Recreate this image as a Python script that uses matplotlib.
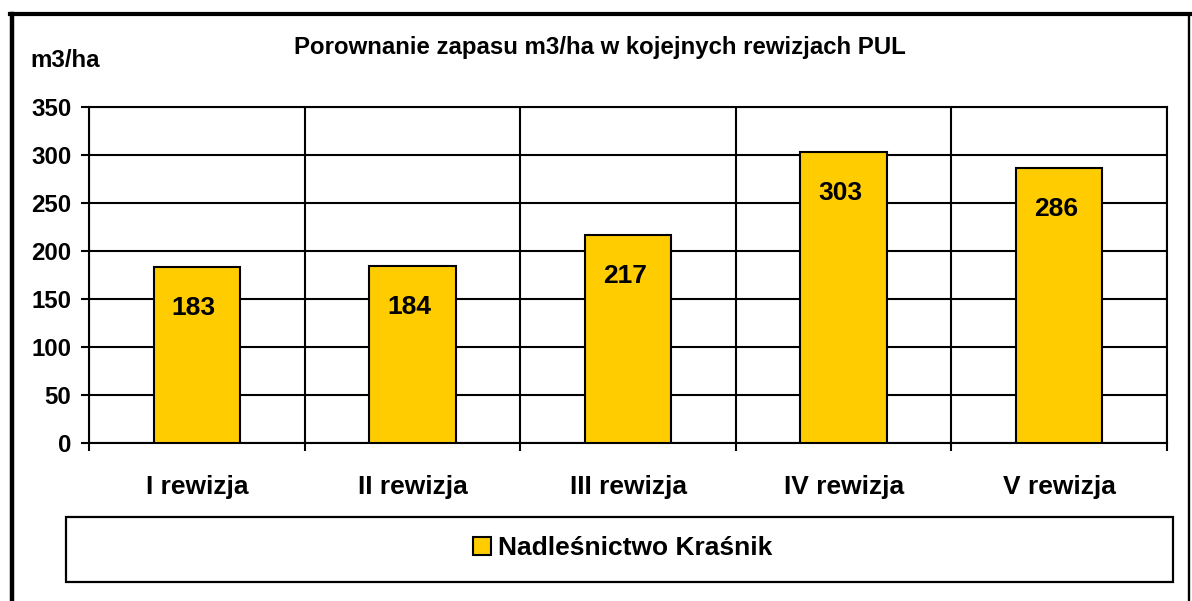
import matplotlib
matplotlib.use("Agg")
import matplotlib.pyplot as plt
from matplotlib.patches import Rectangle
from matplotlib.lines import Line2D

categories = ["I rewizja", "II rewizja", "III rewizja", "IV rewizja", "V rewizja"]
zapas = [183, 184, 217, 303, 286]
y_ticks = [0, 50, 100, 150, 200, 250, 300, 350]
series_name = "Nadleśnictwo Kraśnik"
title = "Porownanie zapasu m3/ha w kojejnych rewizjach PUL"
y_unit = "m3/ha"

W, H = 1192, 601
BAR = "#ffcc00"
plt.rcParams["font.family"] = ["Liberation Sans", "DejaVu Sans"]
plt.rcParams["font.weight"] = "bold"


def px(x, y):
    # pixel position (from top-left) -> figure fraction
    return x / W, 1 - y / H


fig = plt.figure(figsize=(W / 100, H / 100), dpi=100)
fig.patch.set_facecolor("white")

ax = fig.add_axes([89 / W, (H - 443) / H, 1078 / W, 336 / H])
xs = list(range(len(categories)))
ax.bar(xs, zapas, width=0.40, color=BAR, edgecolor="black", linewidth=1.5, zorder=3)

ax.set_xlim(-0.5, len(categories) - 0.5)
ax.set_ylim(0, 350)
ax.set_yticks(y_ticks)
ax.set_yticklabels([str(t) for t in y_ticks], fontsize=17.3, fontweight="bold")
ax.set_xticks(xs)
ax.set_xticklabels(categories, fontsize=19, fontweight="bold")
ax.set_xticks([i - 0.5 for i in range(len(categories) + 1)], minor=True)

ax.tick_params(axis="y", length=5.8, width=1.5, pad=7, direction="out")
ax.tick_params(axis="x", which="major", length=0, pad=23)
ax.tick_params(axis="x", which="minor", length=5.8, width=1.5, direction="out")

ax.grid(True, axis="y", which="major", color="black", linewidth=1.5, zorder=0)
ax.grid(True, axis="x", which="minor", color="black", linewidth=1.5, zorder=0)
ax.set_axisbelow(True)
for sp in ax.spines.values():
    sp.set_linewidth(1.5)
    sp.set_color("black")

for x, v in zip(xs, zapas):
    ax.annotate(str(v), (x, v), xytext=(-3 * 0.72, -48 * 0.72), textcoords="offset points",
                ha="center", va="baseline", fontsize=19, fontweight="bold", zorder=4)

fig.text(*px(600, 54), title, ha="center", va="baseline", fontsize=17.3, fontweight="bold")
fig.text(*px(30, 67), y_unit, ha="left", va="baseline", fontsize=17.3, fontweight="bold")

# legend box
lx0, ly0 = px(66, 582)
lx1, ly1 = px(1173, 517)
fig.patches.append(Rectangle((lx0, ly0), lx1 - lx0, ly1 - ly0, transform=fig.transFigure,
                             facecolor="white", edgecolor="black", linewidth=1.6))
handle = Rectangle((0, 0), 1, 1, facecolor=BAR, edgecolor="black", linewidth=1.5)
fig.legend([handle], [series_name], loc="center", bbox_to_anchor=px(623, 548),
           frameon=False, handlelength=0.66, handleheight=0.66, handletextpad=0.3,
           prop={"weight": "bold", "size": 19})

# outer frame of the chart
fig.add_artist(Line2D([12 / W, 12 / W], [0, 1 - 14 / H], transform=fig.transFigure,
                      color="black", linewidth=3.2))
fig.add_artist(Line2D([10 / W, 1190 / W], [1 - 14 / H, 1 - 14 / H], transform=fig.transFigure,
                      color="black", linewidth=3.0))
fig.add_artist(Line2D([1189 / W, 1189 / W], [0, 1 - 14 / H], transform=fig.transFigure,
                      color="black", linewidth=1.7))

fig.savefig("out.png", dpi=100, facecolor=fig.get_facecolor())
plt.close(fig)
